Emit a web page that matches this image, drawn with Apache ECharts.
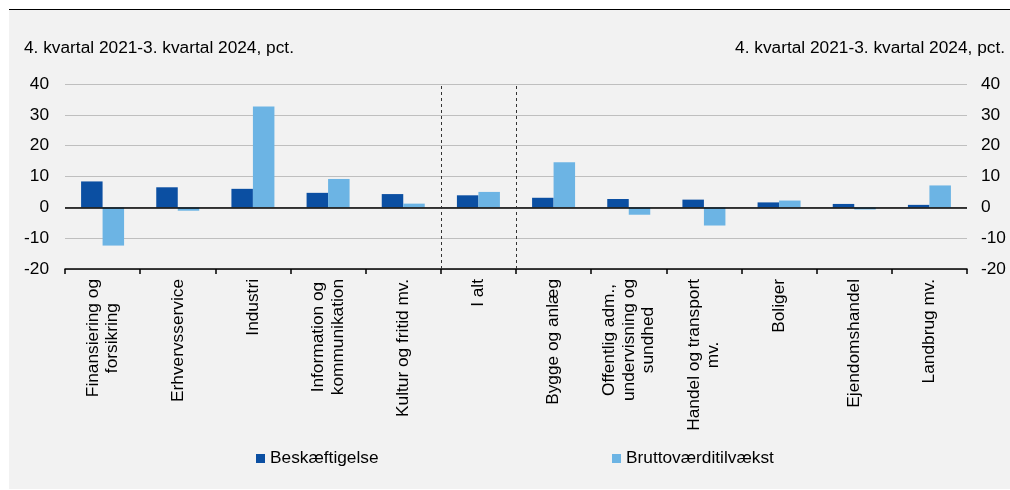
<!DOCTYPE html>
<html>
<head>
<meta charset="utf-8">
<script src="https://cdn.jsdelivr.net/npm/echarts@6/dist/echarts.min.js"></script>
<style>
  html, body { margin: 0; padding: 0; background: #ffffff; }
  #wrap { position: relative; width: 1010px; height: 490px; overflow: hidden; }
  #bg { position: absolute; left: 9px; top: 9px; width: 1001px; height: 480px; background: #f2f2f2; border-top: 1px solid #000; box-sizing: border-box; }
  #chart { position: absolute; left: 0; top: 0; width: 1010px; height: 490px; }
</style>
</head>
<body>
<div id="wrap">
  <div id="bg"></div>
  <div id="chart"></div>
</div>
<script>
const categories = [
  'Finansiering og\nforsikring',
  'Erhvervsservice',
  'Industri',
  'Information og\nkommunikation',
  'Kultur og fritid mv.',
  'I alt',
  'Bygge og anlæg',
  'Offentlig adm.,\nundervisning og\nsundhed',
  'Handel og transport\nmv.',
  'Boliger',
  'Ejendomshandel',
  'Landbrug mv.'
];
const beskaeftigelse = [8.4, 6.5, 6.0, 4.7, 4.3, 3.9, 3.1, 2.7, 2.5, 1.6, 1.1, 0.8];
const bruttovaerditilvaekst = [-12.4, -1.1, 32.7, 9.2, 1.2, 5.0, 14.6, -2.4, -5.9, 2.2, -0.7, 7.1];
const seriesNames = ['Beskæftigelse', 'Bruttoværditilvækst'];
const subtitle = '4. kvartal 2021-3. kvartal 2024, pct.';
const yTicks = { min: -20, max: 40, interval: 10 };
const separators = [5, 6];

const FONT = '"Liberation Sans", Arial, sans-serif';
const FS = 17.3;
const DARK = '#0b4fa2';
const LIGHT = '#6cb4e4';

const chart = echarts.init(document.getElementById('chart'), null, { renderer: 'canvas' });

const yAxisCommon = {
  type: 'value',
  min: yTicks.min,
  max: yTicks.max,
  interval: yTicks.interval,
  axisLine: { show: false },
  axisTick: { show: false },
  axisLabel: { fontSize: FS, fontFamily: FONT, color: '#000' }
};

chart.setOption({
  animation: false,
  backgroundColor: 'transparent',
  textStyle: { fontFamily: FONT },
  graphic: [
    { type: 'text', x: 24, y: 48, style: { text: subtitle, fontSize: FS, fontFamily: FONT, fill: '#000', verticalAlign: 'middle', align: 'left' } },
    { type: 'text', x: 1005, y: 48, style: { text: subtitle, fontSize: FS, fontFamily: FONT, fill: '#000', verticalAlign: 'middle', align: 'right' } }
  ],
  grid: { left: 65, right: 43, top: 84, bottom: 221, containLabel: false },
  legend: [
    { data: [seriesNames[0]], left: 256, top: 450, padding: 0, itemWidth: 9, itemHeight: 9, icon: 'rect',
      textStyle: { fontSize: FS, fontFamily: FONT, color: '#000' } },
    { data: [seriesNames[1]], left: 612, top: 450, padding: 0, itemWidth: 9, itemHeight: 9, icon: 'rect',
      textStyle: { fontSize: FS, fontFamily: FONT, color: '#000' } }
  ],
  xAxis: [
    {
      type: 'category',
      data: categories,
      boundaryGap: true,
      axisLine: { onZero: false, lineStyle: { color: '#000', width: 1.5 } },
      axisTick: { show: true, length: 5, lineStyle: { color: '#000', width: 1.5 } },
      axisLabel: {
        interval: 0,
        rotate: 90,
        margin: 10,
        fontSize: FS,
        lineHeight: 19.5,
        fontFamily: FONT,
        color: '#000',
        formatter: function (v) {
          return v.split('\n').map(function (s) { return '{c|' + s + '}'; }).join('\n');
        },
        rich: { c: { align: 'center', fontSize: FS, lineHeight: 19.5, fontFamily: FONT, color: '#000' } }
      },
      splitLine: { show: false }
    },
    { type: 'value', min: 0, max: categories.length, show: false }
  ],
  yAxis: [
    Object.assign({}, yAxisCommon, {
      position: 'left',
      axisLabel: Object.assign({}, yAxisCommon.axisLabel, { margin: 16 }),
      splitLine: { show: true, lineStyle: { color: '#bfbfbf', width: 1 } }
    }),
    Object.assign({}, yAxisCommon, {
      position: 'right',
      axisLabel: Object.assign({}, yAxisCommon.axisLabel, { margin: 14 }),
      splitLine: { show: false }
    })
  ],
  series: [
    {
      name: seriesNames[0],
      type: 'bar',
      data: beskaeftigelse,
      barWidth: 21.5,
      barGap: '0%',
      itemStyle: { color: DARK },
      markLine: {
        silent: true,
        symbol: ['none', 'none'],
        label: { show: false },
        lineStyle: { color: '#000', width: 1.5, type: 'solid' },
        data: [{ yAxis: 0 }]
      }
    },
    {
      name: seriesNames[1],
      type: 'bar',
      data: bruttovaerditilvaekst,
      barWidth: 21.5,
      barGap: '0%',
      itemStyle: { color: LIGHT }
    },
    {
      name: 'separators',
      type: 'line',
      xAxisIndex: 1,
      yAxisIndex: 0,
      data: [],
      silent: true,
      markLine: {
        silent: true,
        symbol: ['none', 'none'],
        label: { show: false },
        lineStyle: { color: '#333', width: 1, type: [3, 3] },
        data: separators.map(function (s) { return { xAxis: s }; })
      }
    }
  ]
});
</script>
</body>
</html>
